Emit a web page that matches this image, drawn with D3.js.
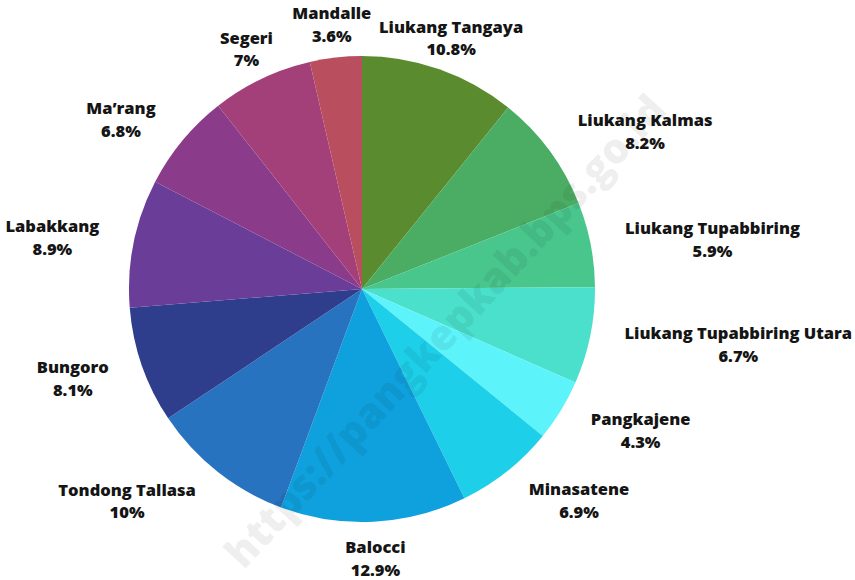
<!DOCTYPE html>
<html><head><meta charset="utf-8">
<script src="https://cdn.jsdelivr.net/npm/d3@7"></script>
<style>html,body{margin:0;padding:0;background:#fff;}svg{display:block;}</style>
</head><body>
<svg id="chart" width="855" height="580"></svg>
<script>
const categories = ["Liukang Tangaya","Liukang Kalmas","Liukang Tupabbiring","Liukang Tupabbiring Utara","Pangkajene","Minasatene","Balocci","Tondong Tallasa","Bungoro","Labakkang","Ma’rang","Segeri","Mandalle"];
const values = [10.8,8.2,5.9,6.7,4.3,6.9,12.9,10,8.1,8.9,6.8,7,3.6];
const valueLabels = ["10.8%","8.2%","5.9%","6.7%","4.3%","6.9%","12.9%","10%","8.1%","8.9%","6.8%","7%","3.6%"];
const colors = ["#5a8c2f","#4bad64","#49c68c","#4ae0cb","#5cf3fa","#1dcfe9","#0fa1dd","#2873c0","#2f3d8d","#6a3e98","#8a3c8b","#a3407a","#b94e5f"];
const watermark = "https://pangkepkab.bps.go.id";

const svg = d3.select("#chart");
const cx = 362, cy = 289, R = 233, labelR = 268;
const data = categories.map((c,i)=>({name:c, value:values[i], label:valueLabels[i], color:colors[i]}));
const pie = d3.pie().value(d=>d.value).sort(null);
const arc = d3.arc().innerRadius(0).outerRadius(R);
const arcs = pie(data);
const g = svg.append("g").attr("transform",`translate(${cx},${cy})`);
g.selectAll("path").data(arcs).join("path").attr("d",arc).attr("fill",d=>d.data.color);

const lab = svg.append("g").attr("font-family","'Open Sans', Lato, sans-serif").attr("font-weight",800).attr("font-size","16.5px").attr("fill","#151515");
arcs.forEach(a=>{
  const m=(a.startAngle+a.endAngle)/2;
  const x=cx+labelR*Math.sin(m), y=cy-labelR*Math.cos(m);
  const s=Math.sin(m);
  const t=lab.append("text").attr("text-anchor","middle").attr("y",y);
  const t1=t.append("tspan").attr("dy","-0.22em").text(a.data.name);
  const t2=t.append("tspan").attr("dy","1.38em").text(a.data.label);
  const W=Math.max(t1.node().getComputedTextLength(), t2.node().getComputedTextLength());
  let xc = x;
  if (Math.abs(s)>=0.5) xc = s>0 ? x+W/2 : x-W/2;
  t1.attr("x",xc); t2.attr("x",xc);
});

svg.append("text").attr("transform","translate(444,330) rotate(-47.2)")
  .attr("text-anchor","middle").attr("dominant-baseline","central")
  .attr("font-family","'Open Sans', sans-serif").attr("font-weight",800).attr("font-size","42px")
  .attr("textLength",625).attr("lengthAdjust","spacingAndGlyphs")
  .attr("fill","#000").attr("fill-opacity",0.075).text(watermark);
</script>
</body></html>
